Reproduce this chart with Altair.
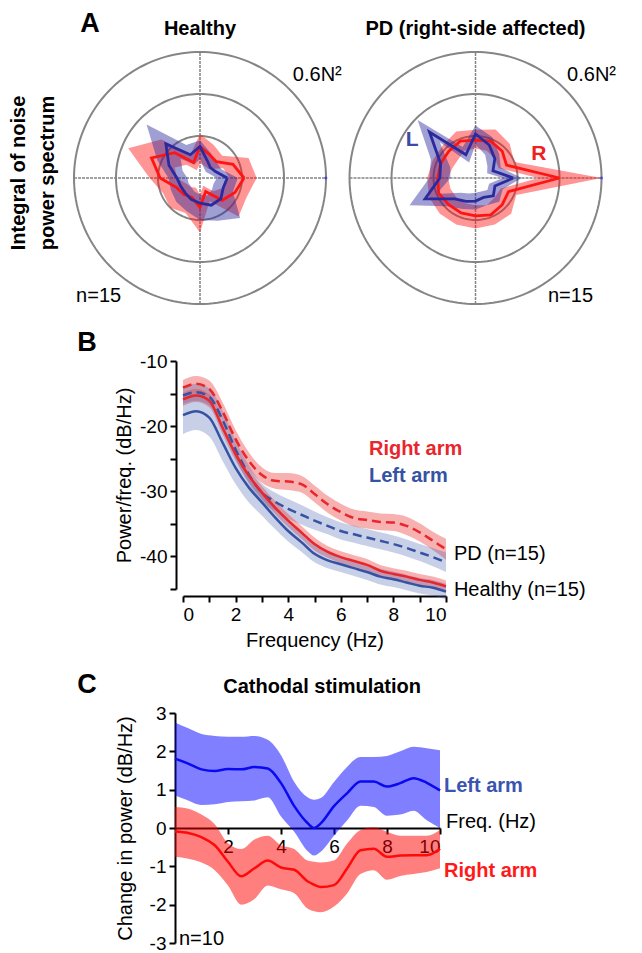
import altair as alt
import pandas as pd

FONT = "Liberation Sans"
DUMMY = pd.DataFrame({"_": [0]})

# ---------------- Panel A : polar plots ----------------
angles = [0, 22.5, 45, 67.5, 90, 112.5, 135, 157.5, 180, 202.5, 225, 247.5, 270, 292.5, 315, 337.5]
ring_levels = [0.2, 0.4, 0.6]

healthy_R_mean = [0.21, 0.17, 0.11, 0.12, 0.15, 0.08, 0.17, 0.25, 0.19, 0.12, 0.11, 0.10, 0.14, 0.07, 0.15, 0.18]
healthy_R_lo = [0.14, 0.12, 0.06, 0.06, 0.07, 0.04, 0.09, 0.13, 0.11, 0.07, 0.06, 0.05, 0.08, 0.04, 0.09, 0.12]
healthy_R_hi = [0.27, 0.25, 0.15, 0.17, 0.21, 0.12, 0.26, 0.37, 0.24, 0.19, 0.20, 0.18, 0.26, 0.12, 0.26, 0.24]
healthy_L_mean = [0.13, 0.08, 0.07, 0.09, 0.15, 0.12, 0.23, 0.16, 0.11, 0.10, 0.10, 0.11, 0.12, 0.14, 0.14, 0.12]
healthy_L_lo = [0.08, 0.05, 0.04, 0.05, 0.09, 0.07, 0.13, 0.09, 0.06, 0.06, 0.06, 0.07, 0.08, 0.09, 0.08, 0.07]
healthy_L_hi = [0.18, 0.11, 0.11, 0.13, 0.18, 0.17, 0.36, 0.22, 0.15, 0.15, 0.16, 0.17, 0.20, 0.22, 0.27, 0.17]

pd_R_mean_A = [0.40, 0.16, 0.18, 0.19, 0.18, 0.19, 0.18, 0.18, 0.18, 0.19, 0.18, 0.18, 0.18, 0.19, 0.18, 0.17]
pd_R_lo_A = [0.30, 0.12, 0.13, 0.14, 0.14, 0.14, 0.12, 0.12, 0.13, 0.13, 0.13, 0.13, 0.13, 0.14, 0.13, 0.13]
pd_R_hi_A = [0.60, 0.20, 0.23, 0.25, 0.23, 0.24, 0.22, 0.22, 0.23, 0.24, 0.24, 0.24, 0.24, 0.24, 0.24, 0.21]
pd_L_mean_A = [0.18, 0.09, 0.13, 0.17, 0.21, 0.12, 0.31, 0.18, 0.17, 0.26, 0.14, 0.12, 0.11, 0.10, 0.12, 0.10]
pd_L_lo_A = [0.13, 0.06, 0.08, 0.12, 0.16, 0.08, 0.24, 0.13, 0.12, 0.20, 0.10, 0.08, 0.07, 0.07, 0.08, 0.07]
pd_L_hi_A = [0.22, 0.13, 0.16, 0.21, 0.25, 0.16, 0.39, 0.23, 0.22, 0.34, 0.19, 0.16, 0.15, 0.14, 0.16, 0.14]

# ---------------- Panel B : spectra ----------------
freq = [0, 0.5, 1, 1.5, 2, 2.5, 3, 3.5, 4, 4.5, 5, 5.5, 6, 6.5, 7, 7.5, 8, 8.5, 9, 9.5, 10]

pdB_R_mean = [-14.1, -13.5, -14.3, -17.7, -22.0, -25.3, -27.5, -28.4, -28.5, -28.9, -30.4, -32.0, -33.2, -34.1, -34.4, -34.7, -34.8, -35.3, -36.3, -37.6, -38.9]
pdB_R_hi = [-12.9, -12.3, -13.0, -16.3, -20.6, -24.0, -26.3, -27.2, -27.2, -27.6, -29.1, -30.7, -31.9, -32.8, -33.1, -33.4, -33.5, -33.9, -34.9, -36.2, -37.3]
pdB_R_lo = [-15.4, -14.8, -15.6, -19.1, -23.4, -26.6, -28.7, -29.6, -29.8, -30.2, -31.7, -33.3, -34.5, -35.4, -35.7, -36.0, -36.1, -36.7, -37.7, -39.0, -40.5]

pdB_L_mean = [-15.3, -14.8, -15.5, -19.0, -23.6, -27.4, -30.2, -31.6, -32.7, -33.6, -34.5, -35.3, -36.1, -36.6, -37.1, -37.6, -38.1, -38.7, -39.4, -40.1, -40.9]
pdB_L_hi = [-14.0, -13.5, -14.2, -17.6, -22.2, -26.0, -28.8, -30.2, -31.2, -32.1, -33.1, -34.0, -34.8, -35.3, -35.8, -36.3, -36.8, -37.4, -38.1, -38.7, -39.4]
pdB_L_lo = [-16.6, -16.1, -16.8, -20.4, -25.0, -28.8, -31.6, -33.0, -34.2, -35.1, -35.9, -36.6, -37.4, -37.9, -38.4, -38.9, -39.4, -40.0, -40.7, -41.5, -42.4]

hB_R_mean = [-15.9, -15.3, -16.1, -20.2, -24.3, -27.6, -30.2, -32.5, -34.5, -36.3, -38.1, -39.3, -40.1, -40.7, -41.3, -42.2, -42.7, -43.1, -43.6, -44.0, -44.6]
hB_R_hi = [-14.9, -14.3, -15.1, -19.2, -23.3, -26.6, -29.2, -31.5, -33.5, -35.3, -37.1, -38.4, -39.2, -39.8, -40.4, -41.3, -41.8, -42.2, -42.7, -43.1, -43.7]
hB_R_lo = [-16.9, -16.3, -17.1, -21.2, -25.3, -28.6, -31.2, -33.5, -35.5, -37.3, -39.1, -40.2, -41.0, -41.6, -42.2, -43.1, -43.6, -44.0, -44.5, -44.9, -45.5]

hB_L_mean = [-18.3, -17.7, -18.7, -22.5, -26.4, -29.4, -31.7, -34.0, -36.1, -37.8, -39.6, -40.6, -41.2, -41.8, -42.4, -43.1, -43.5, -44.0, -44.5, -44.8, -45.4]
hB_L_hi = [-15.3, -14.8, -15.7, -19.8, -23.9, -27.2, -29.8, -32.3, -34.5, -36.3, -38.2, -39.3, -40.0, -40.6, -41.2, -41.9, -42.3, -42.8, -43.3, -43.6, -44.2]
hB_L_lo = [-21.2, -20.6, -21.6, -25.3, -28.9, -31.7, -33.7, -35.8, -37.7, -39.3, -40.9, -41.8, -42.4, -43.0, -43.6, -44.3, -44.7, -45.2, -45.7, -46.0, -46.6]

# ---------------- Panel C : change in power ----------------
freqC = [0, 0.5, 1, 1.5, 2, 2.5, 3, 3.5, 4, 4.5, 5, 5.25, 5.5, 6, 6.5, 7, 7.5, 8, 8.5, 9, 9.5, 10]
C_L_mean = [1.81, 1.68, 1.53, 1.49, 1.54, 1.53, 1.59, 1.55, 1.17, 0.57, 0.13, 0.0, 0.12, 0.57, 0.91, 1.21, 1.21, 1.08, 1.17, 1.30, 1.18, 0.98]
C_L_hi = [2.75, 2.60, 2.45, 2.40, 2.38, 2.38, 2.40, 2.30, 1.90, 1.20, 0.80, 0.74, 0.78, 1.20, 1.60, 1.85, 1.85, 1.88, 2.00, 2.12, 2.08, 2.03]
C_L_lo = [0.85, 0.72, 0.60, 0.62, 0.68, 0.70, 0.72, 0.80, 0.30, -0.10, -0.60, -0.72, -0.62, -0.20, 0.20, 0.58, 0.55, 0.32, 0.35, 0.45, 0.20, 0.00]
C_R_mean = [-0.09, -0.13, -0.24, -0.45, -0.88, -1.26, -1.05, -0.85, -1.03, -1.09, -1.39, -1.48, -1.54, -1.49, -1.05, -0.58, -0.54, -0.75, -0.72, -0.71, -0.71, -0.54]
C_R_hi = [0.55, 0.50, 0.35, 0.10, -0.40, -0.55, -0.30, -0.20, -0.45, -0.55, -0.85, -0.88, -0.90, -0.85, -0.40, -0.05, 0.02, -0.10, -0.20, -0.20, -0.20, -0.05]
C_R_lo = [-0.75, -0.80, -0.90, -1.10, -1.50, -2.00, -1.85, -1.50, -1.60, -1.70, -2.10, -2.17, -2.20, -2.05, -1.70, -1.20, -1.10, -1.35, -1.25, -1.20, -1.15, -1.05]

# ================= Panel A chart =================
RED_A = "#ff1414"
BLUE_A = "#2a2a9e"
GRAY = "#858585"

A_W, A_H = 528, 252
PX_PER_UNIT = A_H / 1.2
SX = alt.Scale(domain=[-0.6, -0.6 + A_W / PX_PER_UNIT], nice=False, zero=False)
SY = alt.Scale(domain=[-0.6, 0.6], nice=False, zero=False)
PD_CX = 1.312  # centre of the second polar plot in x units


def polar_xy(cx):
    return dict(x=f"{cx} + datum.r * cos(datum.angle * PI / 180)",
                y="datum.r * sin(datum.angle * PI / 180)")


def pxy():
    return dict(x=alt.X("x:Q", scale=SX, axis=None), y=alt.Y("y:Q", scale=SY, axis=None))


def closed(vals):
    return list(vals) + [vals[0]]


def outline(mean, color, cx):
    ang = angles + [360]
    df = pd.DataFrame({"angle": ang, "r": closed(mean), "k": list(range(len(ang)))})
    return alt.Chart(df).transform_calculate(**polar_xy(cx)).mark_line(
        color=color, strokeWidth=2.8, strokeJoin="miter").encode(**pxy(), order="k:Q")


def band(lo, hi, color, cx):
    ang = angles + [360]
    a = ang + ang[::-1]
    r = closed(hi) + closed(lo)[::-1]
    df = pd.DataFrame({"angle": a, "r": r, "k": list(range(len(a)))})
    return alt.Chart(df).transform_calculate(**polar_xy(cx)).mark_line(
        fill=color, fillOpacity=0.45, strokeOpacity=0).encode(**pxy(), order="k:Q")


def circles(cx):
    return alt.Chart(pd.DataFrame({"ring": ring_levels})).transform_calculate(
        angle="sequence(0, 362, 2)").transform_flatten(["angle"]).transform_calculate(
        r="datum.ring").transform_calculate(**polar_xy(cx)).mark_line(
        color=GRAY, strokeWidth=2).encode(**pxy(), detail="ring:N", order="angle:Q")


rmax = max(ring_levels)


def crosshair(cx):
    df = pd.DataFrame({"a": [-rmax], "b": [rmax], "z": [0.0]})
    base = alt.Chart(df).transform_calculate(xa=f"{cx} + datum.a", xb=f"{cx} + datum.b", xz=f"{cx} + datum.z")
    h = base.mark_rule(color=GRAY, strokeWidth=1.5, strokeDash=[3, 1]).encode(
        x=alt.X("xa:Q", scale=SX, axis=None), x2="xb:Q", y=alt.Y("z:Q", scale=SY, axis=None))
    v = base.mark_rule(color=GRAY, strokeWidth=1.5, strokeDash=[3, 1]).encode(
        y=alt.Y("a:Q", scale=SY, axis=None), y2="b:Q", x=alt.X("xz:Q", scale=SX, axis=None))
    d = base.mark_square(color="#2020ff", size=6).encode(
        x=alt.X("xb:Q", scale=SX, axis=None), y=alt.Y("z:Q", scale=SY, axis=None))
    return [h, v, d]


def ptext(text, x, y, size=20, weight="normal", color="black", align="center", **kw):
    return alt.Chart(DUMMY).mark_text(text=text, font=FONT, fontSize=size, fontWeight=weight,
                                      color=color, align=align, baseline="middle", **kw).encode(
        x=alt.XDatum(x, scale=SX, axis=None), y=alt.YDatum(y, scale=SY, axis=None))


chartA = alt.layer(
    circles(0), *crosshair(0),
    band(healthy_R_lo, healthy_R_hi, RED_A, 0), band(healthy_L_lo, healthy_L_hi, BLUE_A, 0),
    outline(healthy_R_mean, RED_A, 0), outline(healthy_L_mean, BLUE_A, 0),
    circles(PD_CX), *crosshair(PD_CX),
    band(pd_R_lo_A, pd_R_hi_A, RED_A, PD_CX), band(pd_L_lo_A, pd_L_hi_A, BLUE_A, PD_CX),
    outline(pd_R_mean_A, RED_A, PD_CX), outline(pd_L_mean_A, BLUE_A, PD_CX),
    ptext("A", -0.524, 0.733, size=27, weight="bold"),
    ptext("Healthy", 0.0, 0.71, weight="bold"),
    ptext("0.6N²", 0.675, 0.49, align="right"),
    ptext("n=15", -0.59, -0.562, align="left"),
    ptext("Integral of noise", -0.862, 0.024, weight="bold", angle=270),
    ptext("power spectrum", -0.724, 0.024, weight="bold", angle=270),
    ptext("PD (right-side affected)", PD_CX, 0.71, weight="bold"),
    ptext("0.6N²", PD_CX + 0.669, 0.49, align="right"),
    ptext("n=15", PD_CX + 0.345, -0.562, align="left"),
    ptext("L", PD_CX - 0.302, 0.181, size=21, weight="bold", color="#3a4aa8"),
    ptext("R", PD_CX + 0.302, 0.114, size=21, weight="bold", color="#ee2020"),
).properties(width=A_W, height=A_H)

# ================= Panel B =================
RED_B = "#e8262c"
BLUE_B = "#3552a3"
B_W, B_H = 372, 295
BX = alt.Scale(domain=[0, 10], range=[109, 372], nice=False, zero=False)
BY = alt.Scale(domain=[-45, -10], range=[228, 0], nice=False, zero=False)

b_axis_x = alt.Axis(values=list(range(11)), labelExpr="datum.value % 2 == 0 ? '' + datum.value : ''",
                    title="Frequency (Hz)", offset=-60, titlePadding=6)
b_axis_y = alt.Axis(values=[-10, -15, -20, -25, -30, -35, -40, -45],
                    labelExpr="datum.value % 10 == 0 ? '' + datum.value : ''",
                    title="Power/freq. (dB/Hz)", offset=-102, titlePadding=5)


def bdf(mean, lo, hi):
    return pd.DataFrame({"f": freq, "m": mean, "lo": lo, "hi": hi})


def b_band(df, color, op):
    return alt.Chart(df).mark_area(color=color, opacity=op, interpolate="monotone").encode(
        x=alt.X("f:Q", scale=BX, axis=b_axis_x), y=alt.Y("lo:Q", scale=BY, axis=b_axis_y), y2="hi:Q")


def b_line(df, color, dash):
    kw = {"strokeDash": [9, 5]} if dash else {}
    return alt.Chart(df).mark_line(color=color, strokeWidth=2.5, interpolate="monotone", **kw).encode(
        x=alt.X("f:Q", scale=BX, axis=b_axis_x), y=alt.Y("m:Q", scale=BY, axis=b_axis_y))


def btext(text, x, y, size=20, weight="normal", color="black", align="left", **kw):
    return alt.Chart(DUMMY).mark_text(text=text, font=FONT, fontSize=size, fontWeight=weight,
                                      color=color, align=align, baseline="middle", **kw).encode(
        x=alt.XDatum(x, scale=BX, axis=b_axis_x), y=alt.YDatum(y, scale=BY, axis=b_axis_y))


dPR = bdf(pdB_R_mean, pdB_R_lo, pdB_R_hi)
dPL = bdf(pdB_L_mean, pdB_L_lo, pdB_L_hi)
dHR = bdf(hB_R_mean, hB_R_lo, hB_R_hi)
dHL = bdf(hB_L_mean, hB_L_lo, hB_L_hi)

chartB = alt.layer(
    b_band(dPR, "#ee3b3b", 0.4), b_band(dPL, "#4a64b4", 0.3),
    b_band(dHR, "#ee3b3b", 0.4), b_band(dHL, "#4a64b4", 0.3),
    b_line(dPR, RED_B, True), b_line(dPL, BLUE_B, True),
    b_line(dHR, RED_B, False), b_line(dHL, BLUE_B, False),
    btext("B", -3.65, -7.24, size=27, weight="bold", align="center"),
    btext("Right arm", 7.07, -23.5, weight="bold", color=RED_B),
    btext("Left arm", 7.07, -27.6, weight="bold", color=BLUE_B),
    btext("PD (n=15)", 10.3, -39.6),
    btext("Healthy (n=15)", 10.3, -45.1),
).properties(width=B_W, height=B_H)

# ================= Panel C =================
C_W, C_H = 366, 230
CX = alt.Scale(domain=[0, 10], range=[101, 366], nice=False, zero=False)
CY = alt.Scale(domain=[-3, 3], nice=False, zero=False)
c_axis_x = alt.Axis(values=[2, 4, 6, 8, 10], labelExpr="'' + datum.value", title="", offset=-C_H / 2)
c_axis_y = alt.Axis(values=[-3, -2, -1, 0, 1, 2, 3], labelExpr="'' + datum.value",
                    title="Change in power (dB/Hz)", offset=-101, titlePadding=14)


def cdf(mean, lo, hi):
    return pd.DataFrame({"f": freqC, "m": mean, "lo": lo, "hi": hi})


def c_band(df, color):
    return alt.Chart(df).mark_area(color=color, opacity=0.5, interpolate="monotone").encode(
        x=alt.X("f:Q", scale=CX, axis=c_axis_x), y=alt.Y("lo:Q", scale=CY, axis=c_axis_y), y2="hi:Q")


def c_line(df, color):
    return alt.Chart(df).mark_line(color=color, strokeWidth=2.5, interpolate="monotone").encode(
        x=alt.X("f:Q", scale=CX, axis=c_axis_x), y=alt.Y("m:Q", scale=CY, axis=c_axis_y))


def ctext(text, x, y, size=20, weight="normal", color="black", align="left", **kw):
    return alt.Chart(DUMMY).mark_text(text=text, font=FONT, fontSize=size, fontWeight=weight,
                                      color=color, align=align, baseline="middle", **kw).encode(
        x=alt.XDatum(x, scale=CX, axis=c_axis_x), y=alt.YDatum(y, scale=CY, axis=c_axis_y))


dCL = cdf(C_L_mean, C_L_lo, C_L_hi)
dCR = cdf(C_R_mean, C_R_lo, C_R_hi)

chartC = alt.layer(
    c_band(dCL, "#0000ff"), c_band(dCR, "#ff0000"),
    c_line(dCL, "#0a0af0"), c_line(dCR, "#ff0a0a"),
    ctext("C", -3.32, 3.74, size=27, weight="bold", align="center"),
    ctext("Cathodal stimulation", 5.55, 3.69, weight="bold", align="center"),
    ctext("Freq. (Hz)", 10, 0.15, dx=6),
    ctext("Left arm", 10, 1.1, dx=4, weight="bold", color="#3a55b0"),
    ctext("Right arm", 10, -1.13, dx=4, weight="bold", color="#ff1a1a"),
    ctext("n=10", 0, -2.9, dx=4),
).properties(width=C_W, height=C_H)

chart = alt.vconcat(
    chartA, chartB, chartC, spacing=57, bounds="flush",
).properties(
    padding={"left": 0, "top": 2, "right": 5, "bottom": 1}
).configure_view(strokeWidth=0).configure_axis(
    domainColor="black", domainWidth=2, tickColor="black", tickWidth=2, tickSize=6,
    labelFontSize=19, labelColor="black", labelFont=FONT, labelPadding=3,
    titleFontSize=20, titleFontWeight="normal", titleColor="black", titleFont=FONT,
    grid=False, zindex=1,
).configure_text(font=FONT)

chart.save("out.html", embed_options={"renderer": "svg", "actions": False})
